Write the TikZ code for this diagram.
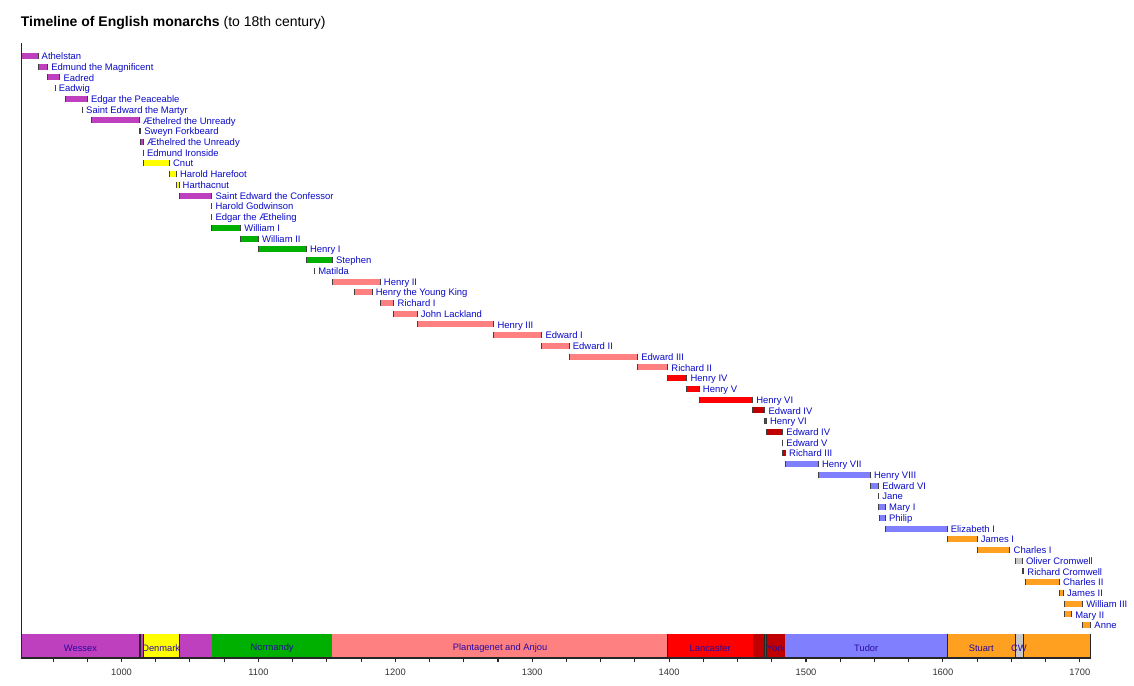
\documentclass[tikz,border=0pt]{standalone}
\usepackage{fontspec}
\setmainfont{Liberation Sans}
\definecolor{wessex}{RGB}{191,64,191}
\definecolor{sweyn}{RGB}{150,110,40}
\definecolor{denmark}{RGB}{255,255,0}
\definecolor{normandy}{RGB}{0,176,0}
\definecolor{plantagenet}{RGB}{255,128,128}
\definecolor{lancaster}{RGB}{255,0,0}
\definecolor{york}{RGB}{192,0,0}
\definecolor{tudor}{RGB}{128,128,255}
\definecolor{stuart}{RGB}{255,160,32}
\definecolor{cw}{RGB}{200,200,200}
\definecolor{labelblue}{RGB}{10,10,200}
\definecolor{houseblue}{RGB}{40,10,160}

\begin{document}
\begin{tikzpicture}[x=1.0268pt, y=-0.75pt,
    who/.style={anchor=base west, inner sep=0pt, xshift=2.6pt, text=labelblue, font=\fontsize{7.1}{8}\selectfont},
    endmark/.style={black!75, line width=0.75pt},
    house/.style={inner sep=0pt, text=houseblue, font=\fontsize{7}{8}\selectfont},
    sep/.style={black!85, line width=0.75pt},
    axis/.style={black!85, line width=0.8pt},
    yr/.style={inner sep=0pt, text=black!80, font=\fontsize{7}{8}\selectfont}]
  \useasboundingbox (911.25,0) rectangle (1739.6,686);
  % ---------------- title ----------------
  \node[anchor=base west, inner sep=0pt, font=\fontsize{10.5}{12}\selectfont] (title) at (926.3,26)
     {\textbf{Timeline of English monarchs} (to 18th century)};
  % ---------------- one row per reign ----------------
  \foreach \nm/\a/\b/\c [count=\i from 0] in {
      Athelstan/927/939/wessex, Edmund the Magnificent/939/946/wessex,
      Eadred/946/955/wessex, Eadwig/951.5/951.5/wessex,
      Edgar the Peaceable/959/975/wessex, Saint Edward the Martyr/971.5/971.5/wessex,
      Æthelred the Unready/978/1013/wessex, Sweyn Forkbeard/1013/1014/sweyn,
      Æthelred the Unready/1014/1016/wessex, Edmund Ironside/1016/1016/wessex,
      Cnut/1016/1035/denmark, Harold Harefoot/1035/1040/denmark,
      Harthacnut/1040/1042/denmark, Saint Edward the Confessor/1042/1066/wessex,
      Harold Godwinson/1066/1066/wessex, Edgar the Ætheling/1066/1066/wessex,
      William I/1066/1087/normandy, William II/1087/1100/normandy,
      Henry I/1100/1135/normandy, Stephen/1135/1154/normandy,
      Matilda/1141/1141/normandy, Henry II/1154/1189/plantagenet,
      Henry the Young King/1170/1183/plantagenet, Richard I/1189/1199/plantagenet,
      John Lackland/1199/1216/plantagenet, Henry III/1216/1272/plantagenet,
      Edward I/1272/1307/plantagenet, Edward II/1307/1327/plantagenet,
      Edward III/1327/1377/plantagenet, Richard II/1377/1399/plantagenet,
      Henry IV/1399/1413/lancaster, Henry V/1413/1422/lancaster,
      Henry VI/1422/1461/lancaster, Edward IV/1461/1470/york,
      Henry VI/1470/1471/lancaster, Edward IV/1471/1483/york,
      Edward V/1483/1483/york, Richard III/1483/1485/york,
      Henry VII/1485/1509/tudor, Henry VIII/1509/1547/tudor,
      Edward VI/1547/1553/tudor, Jane/1553/1553/tudor,
      Mary I/1553/1558/tudor, Philip/1554/1558/tudor,
      Elizabeth I/1558/1603/tudor, James I/1603/1625/stuart,
      Charles I/1625/1649/stuart, Oliver Cromwell/1653/1658/cw,
      Richard Cromwell/1658/1659/cw, Charles II/1660/1685/stuart,
      James II/1685/1688/stuart, William III/1689/1702/stuart,
      Mary II/1689/1694/stuart, Anne/1702/1708/stuart} {
     \pgfmathsetmacro\ry{56+10.74*\i}
     \fill[\c] (\a,\ry-3) rectangle (\b,\ry+3);
     \draw[endmark] (\a,\ry-3) -- (\a,\ry+3);
     \draw[endmark] (\b,\ry-3) -- (\b,\ry+3);
     \node[who] (m\i) at (\b,\ry+3.6) {\nm};
  }
  % ---------------- houses ----------------
  \foreach \a/\b/\c in {927/1013/wessex, 1013/1014/sweyn, 1014/1016/wessex,
      1016/1042/denmark, 1042/1066/wessex, 1066/1154/normandy,
      1154/1399/plantagenet, 1399/1461/lancaster, 1461/1470/york,
      1470/1471/lancaster, 1471/1485/york, 1485/1603/tudor,
      1603/1653/stuart, 1653/1659/cw, 1659/1708/stuart} {
     \fill[\c] (\a,634.5) rectangle (\b,658);
  }
  \foreach \t in {1013,1014,1016,1042,1399,1470,1471,1603,1653,1659,1708} {
     \draw[sep] (\t,634.5) -- (\t,658);
  }
  \foreach \hs/\x [count=\k] in {Wessex/970, Denmark/1029, Normandy/1110,
      Plantagenet and Anjou/1276.5, Lancaster/1430, York/1478, Tudor/1544,
      Stuart/1628, CW/1655.5} {
     \node[house] (h\k) at (\x,648.5) {\hs};
  }
  % ---------------- axes ----------------
  \draw[axis] (927,43) -- (927,658) -- (1708,658);
  \foreach \t in {950,975,...,1700} {
     \draw[axis] (\t,658) -- (\t,662);
  }
  \foreach \t in {1000,1100,...,1700} {
     \node[yr] (y\t) at (\t,672) {\t};
  }
\end{tikzpicture}
\end{document}
